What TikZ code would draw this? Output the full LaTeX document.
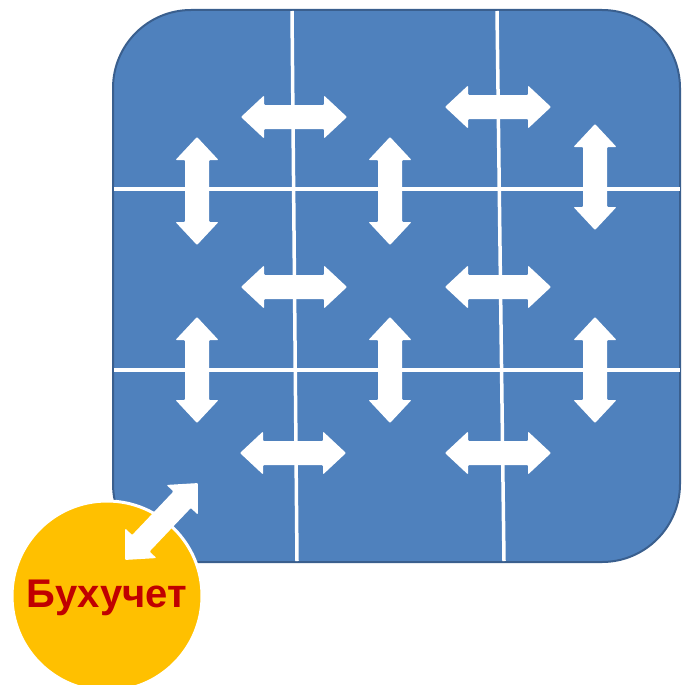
\documentclass[tikz,border=0pt]{standalone}
\usepackage{fontspec}
\setmainfont{Liberation Sans}
\definecolor{boxblue}{HTML}{4F81BD}
\definecolor{boxedge}{HTML}{3A5F8E}
\definecolor{sunorange}{HTML}{FFC000}
\definecolor{textred}{HTML}{C00000}
\tikzset{
  pics/darr/.style={code={
    \fill[white, rounded corners=1pt]
      ({-#1/2},0) -- ({-#1/2+23},21.5) -- ({-#1/2+23},12) -- ({#1/2-23},12)
      -- ({#1/2-23},21.5) -- ({#1/2},0) -- ({#1/2-23},-21.5) -- ({#1/2-23},-12)
      -- ({-#1/2+23},-12) -- ({-#1/2+23},-21.5) -- cycle;
  }},
  gridline/.style={white, line width=3.5pt},
}
\begin{document}
\begin{tikzpicture}[x=1pt,y=-1pt]
\useasboundingbox (0,0) rectangle (681,685);
% main rounded box
\node[draw=boxedge, line width=2pt, fill=boxblue, rounded corners=78pt,
      minimum width=567pt, minimum height=552pt, inner sep=0pt] (box) at (396.5,286) {};
% grid lines
\draw[gridline] (292,11) -- (297,561);
\draw[gridline] (497,11) -- (504,561);
\draw[gridline] (114,189) -- (680,189);
\draw[gridline] (114,370) -- (680,370);
% horizontal double arrows
\pic at (294,117) {darr=106};
\pic at (498,107) {darr=106};
\pic at (294,287) {darr=106};
\pic at (498,287) {darr=106};
\pic at (293,453) {darr=106};
\pic at (498,453) {darr=106};
% vertical double arrows
\pic[rotate=90] at (197,191) {darr=108};
\pic[rotate=90] at (390,191) {darr=108};
\pic[rotate=90] at (595,177) {darr=106};
\pic[rotate=90] at (197,370) {darr=106};
\pic[rotate=90] at (390,370) {darr=106};
\pic[rotate=90] at (595,370) {darr=106};
% circle
\node[circle, fill=sunorange, draw=white, line width=3pt, minimum size=190pt,
      inner sep=0pt] (acc) at (107,596) {};
\node[font=\bfseries\fontsize{40}{40}\selectfont, text=textred] (lbl) at (107,598) {Бухучет};
% diagonal link arrow
\pic[rotate=46.5] at (161.5,521.5) {darr=106};
\end{tikzpicture}
\end{document}
